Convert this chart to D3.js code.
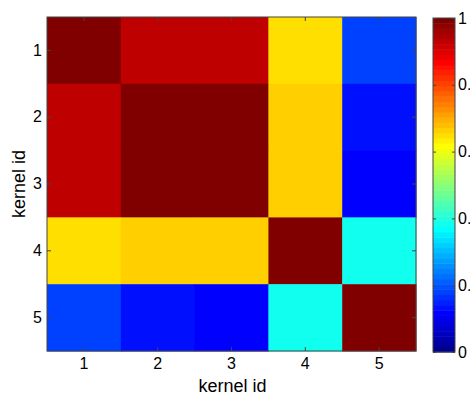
<!DOCTYPE html>
<html>
<head>
<meta charset="utf-8">
<script src="https://cdn.jsdelivr.net/npm/d3@7"></script>
<style>
  html, body { margin: 0; padding: 0; background: #fff; }
  svg { display: block; }
  text { font-family: "Liberation Sans", Arial, sans-serif; fill: #000; }
</style>
</head>
<body>
<svg id="chart" width="470" height="396"></svg>
<script>
// ---- data ----
const kernels = [1, 2, 3, 4, 5];
const row1 = [1.00, 0.93, 0.93, 0.65, 0.18];
const row2 = [0.93, 1.00, 1.00, 0.665, 0.14];
const row3 = [0.93, 1.00, 1.00, 0.665, 0.115];
const row4 = [0.65, 0.665, 0.665, 1.00, 0.38];
const row5 = [0.18, 0.14, 0.115, 0.38, 1.00];
const matrix = [row1, row2, row3, row4, row5];
const colorbarTicks = [0, 0.2, 0.4, 0.6, 0.8, 1];
const xLabel = "kernel id";
const yLabel = "kernel id";

// ---- MATLAB jet(64) ----
function jetLevels(m) {
  const n = Math.ceil(m / 4);
  const u = [];
  for (let i = 1; i <= n; i++) u.push(i / n);
  for (let i = 0; i < n - 1; i++) u.push(1);
  for (let i = n; i >= 1; i--) u.push(i / n);
  const g0 = Math.ceil(n / 2) - (m % 4 === 1 ? 1 : 0);
  const cols = [];
  for (let i = 1; i <= m; i++) cols.push([0, 0, 0]);
  u.forEach((val, k) => {
    const gi = g0 + k + 1, ri = gi + n, bi = gi - n;
    if (gi >= 1 && gi <= m) cols[gi - 1][1] = val;
    if (ri >= 1 && ri <= m) cols[ri - 1][0] = val;
    if (bi >= 1 && bi <= m) cols[bi - 1][2] = val;
  });
  return cols.map(c => d3.rgb(Math.round(c[0] * 255), Math.round(c[1] * 255), Math.round(c[2] * 255)).toString());
}
const jet = jetLevels(64);
const color = d3.scaleQuantize().domain([0, 1]).range(jet);

const svg = d3.select("#chart");
const pL = 47, pR = 416, pT = 17, pB = 351;

const x = d3.scaleBand().domain(kernels).range([pL, pR]);
const y = d3.scaleBand().domain(kernels).range([pT, pB]);

// cells
const cells = [];
matrix.forEach((row, i) => row.forEach((v, j) => cells.push({ r: kernels[i], c: kernels[j], v })));
svg.append("g").selectAll("rect").data(cells).join("rect")
  .attr("x", d => x(d.c))
  .attr("y", d => y(d.r))
  .attr("width", x.bandwidth() + 0.5)
  .attr("height", y.bandwidth() + 0.5)
  .attr("fill", d => color(d.v));

// axes
const fs = "16px";
const axisCol = "#444";
const gx = svg.append("g").attr("transform", `translate(0,${pB})`)
  .call(d3.axisBottom(x).tickSizeInner(-4).tickSizeOuter(0).tickPadding(7));
const gxt = svg.append("g").attr("transform", `translate(0,${pT})`)
  .call(d3.axisTop(x).tickSizeInner(-4).tickSizeOuter(0).tickFormat(""));
const gy = svg.append("g").attr("transform", `translate(${pL},0)`)
  .call(d3.axisLeft(y).tickSizeInner(-4).tickSizeOuter(0).tickPadding(5));
const gyr = svg.append("g").attr("transform", `translate(${pR},0)`)
  .call(d3.axisRight(y).tickSizeInner(-4).tickSizeOuter(0).tickFormat(""));
[gx, gxt, gy, gyr].forEach(g => {
  g.select(".domain").remove();
  g.selectAll(".tick line").attr("stroke", axisCol);
  g.selectAll("text").style("font-size", fs).attr("font-family", null);
});

svg.append("rect").attr("x", pL).attr("y", pT)
  .attr("width", pR - pL).attr("height", pB - pT)
  .attr("fill", "none").attr("stroke", axisCol).attr("stroke-width", 1);

// axis labels
svg.append("text").attr("x", (pL + pR) / 2 + 1).attr("y", 392)
  .attr("text-anchor", "middle").style("font-size", "18px").text(xLabel);
svg.append("text").attr("transform", `translate(25,${(pT + pB) / 2}) rotate(-90)`)
  .attr("text-anchor", "middle").style("font-size", "18px").text(yLabel);

// colorbar
const cbL = 433, cbR = 455, cbT = 18, cbB = 352;
const cy = d3.scaleLinear().domain([0, 1]).range([cbB, cbT]);
const bands = d3.range(jet.length);
svg.append("g").selectAll("rect").data(bands).join("rect")
  .attr("x", cbL)
  .attr("y", i => cy((i + 1) / jet.length))
  .attr("width", cbR - cbL)
  .attr("height", i => cy(i / jet.length) - cy((i + 1) / jet.length) + 0.5)
  .attr("fill", i => jet[i]);

const gc = svg.append("g").attr("transform", `translate(${cbR},0)`)
  .call(d3.axisRight(cy).tickValues(colorbarTicks).tickSizeInner(-3).tickSizeOuter(0).tickPadding(3)
    .tickFormat(d3.format("~g")));
const gcl = svg.append("g").attr("transform", `translate(${cbL},0)`)
  .call(d3.axisLeft(cy).tickValues(colorbarTicks).tickSizeInner(-3).tickSizeOuter(0).tickFormat(""));
[gc, gcl].forEach(g => {
  g.select(".domain").remove();
  g.selectAll(".tick line").attr("stroke", axisCol);
  g.selectAll("text").style("font-size", fs).attr("font-family", null);
});
svg.append("rect").attr("x", cbL).attr("y", cbT)
  .attr("width", cbR - cbL).attr("height", cbB - cbT)
  .attr("fill", "none").attr("stroke", axisCol).attr("stroke-width", 1);
</script>
</body>
</html>
